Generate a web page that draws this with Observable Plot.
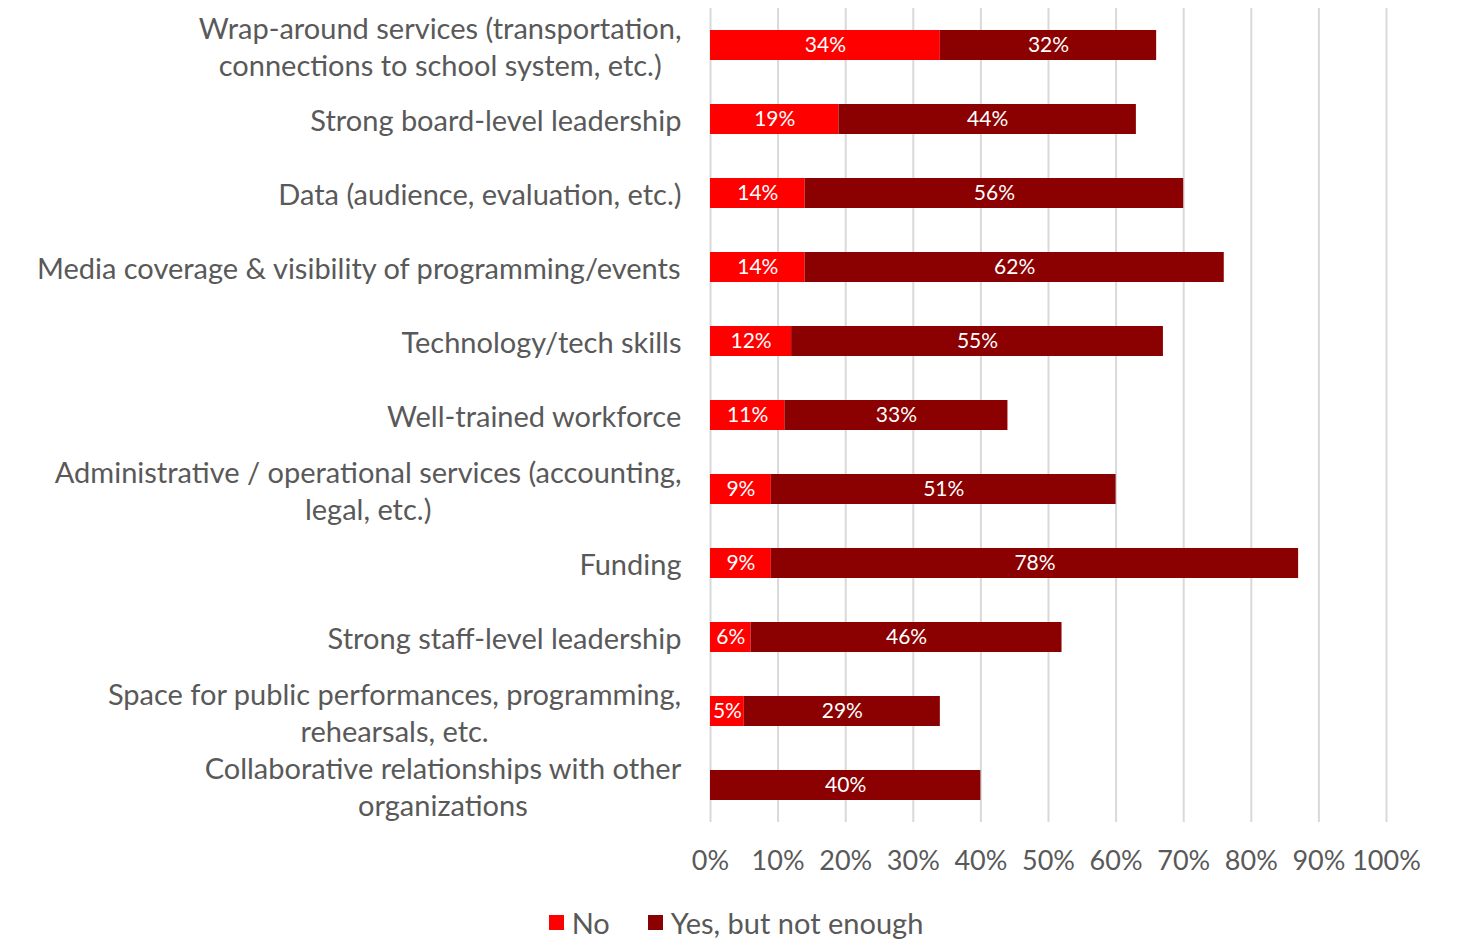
<!DOCTYPE html>
<html>
<head>
<meta charset="utf-8">
<script src="https://cdn.jsdelivr.net/npm/d3@7"></script>
<script src="https://cdn.jsdelivr.net/npm/@observablehq/plot@0.6"></script>
<style>
  html, body { margin: 0; padding: 0; background: #fff; }
  body { width: 1460px; height: 942px; overflow: hidden; font-family: Lato, "Open Sans", sans-serif; }
  #legend { display: flex; justify-content: center; align-items: center; gap: 38px; margin-top: 22px; height: 40px; font-size: 29px; color: #595959; padding-left: 12px; }
  #legend .item { display: flex; align-items: center; gap: 8px; }
  #legend .sw { width: 15px; height: 15px; display: inline-block; }
</style>
</head>
<body>
<div id="chart"></div>
<div id="legend"></div>
<script>
const categories = [
  "Wrap-around services (transportation, connections to school system, etc.)",
  "Strong board-level leadership",
  "Data (audience, evaluation, etc.)",
  "Media coverage & visibility of programming/events",
  "Technology/tech skills",
  "Well-trained workforce",
  "Administrative / operational services (accounting, legal, etc.)",
  "Funding",
  "Strong staff-level leadership",
  "Space for public performances, programming, rehearsals, etc.",
  "Collaborative relationships with other organizations"
];
const categoryLines = [
  ["Wrap-around services (transportation,", "connections to school system, etc.)"],
  ["Strong board-level leadership"],
  ["Data (audience, evaluation, etc.)"],
  ["Media coverage & visibility of programming/events"],
  ["Technology/tech skills"],
  ["Well-trained workforce"],
  ["Administrative / operational services (accounting,", "legal, etc.)"],
  ["Funding"],
  ["Strong staff-level leadership"],
  ["Space for public performances, programming,", "rehearsals, etc."],
  ["Collaborative relationships with other", "organizations"]
];
const seriesNames = ["No", "Yes, but not enough"];
const noValues  = [34, 19, 14, 14, 12, 11, 9, 9, 6, 5, 0];
const yesValues = [32, 44, 56, 62, 55, 33, 51, 78, 46, 29, 40];
const seriesColors = ["#FF0000", "#8B0000"];
const xTicks = [0, 10, 20, 30, 40, 50, 60, 70, 80, 90, 100];

const data = [];
categories.forEach((c, i) => {
  data.push({category: c, series: seriesNames[0], value: noValues[i]});
  data.push({category: c, series: seriesNames[1], value: yesValues[i]});
});

const labelSize = 29;
const ctx = document.createElement("canvas").getContext("2d");
ctx.font = labelSize + "px Lato";
const labelMarks = categories.map((c, i) => {
  const w = d3.max(categoryLines[i], s => ctx.measureText(s).width);
  return Plot.text([c], {
    y: d => d,
    frameAnchor: "left",
    text: () => categoryLines[i].join("\n"),
    textAnchor: "middle",
    dx: -29 - w / 2,
    lineHeight: 1.27,
    fontSize: labelSize,
    fill: "#595959"
  });
});

const chart = Plot.plot({
  width: 1460,
  height: 880,
  marginLeft: 710,
  marginRight: 74,
  marginTop: 8,
  marginBottom: 58,
  style: {fontFamily: "Lato, 'Open Sans', sans-serif", color: "#595959", background: "#fff"},
  x: {domain: [0, 100], ticks: xTicks},
  y: {domain: categories, paddingInner: 0.6, paddingOuter: 0.3},
  color: {domain: seriesNames, range: seriesColors},
  marks: [
    Plot.gridX(xTicks, {stroke: "#D9D9D9", strokeWidth: 2, strokeOpacity: 1}),
    Plot.barX(data, Plot.stackX({x: "value", y: "category", fill: "series", order: null})),
    Plot.text(data, Plot.stackX({
      x: "value", y: "category", order: null,
      text: d => d.value > 0 ? d.value + "%" : "",
      fill: "white", fontSize: 21
    })),
    Plot.axisX(xTicks, {tickSize: 0, tickPadding: 28, tickFormat: d => d + "%", fontSize: 27, fill: "#595959", label: null}),
    Plot.axisY({ticks: [], tickSize: 0, label: null}),
    ...labelMarks
  ]
});
document.getElementById("chart").appendChild(chart);

const legend = document.getElementById("legend");
seriesNames.forEach((s, i) => {
  const item = document.createElement("span");
  item.className = "item";
  const sw = document.createElement("span");
  sw.className = "sw";
  sw.style.background = seriesColors[i];
  item.appendChild(sw);
  item.appendChild(document.createTextNode(s));
  legend.appendChild(item);
});
</script>
</body>
</html>
